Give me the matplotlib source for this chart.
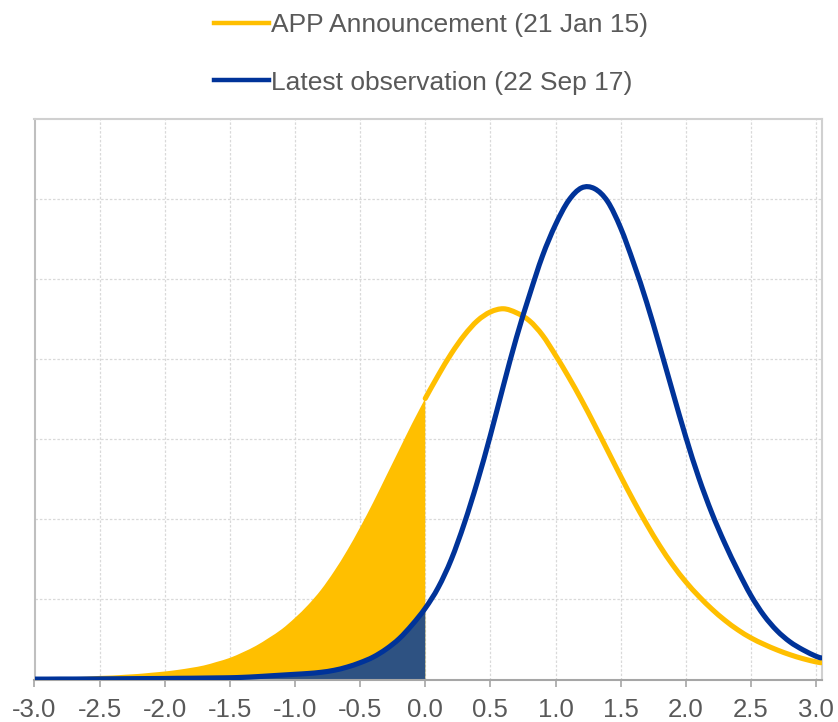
import matplotlib
matplotlib.use("Agg")
import matplotlib.pyplot as plt
from matplotlib.path import Path
from matplotlib.patches import PathPatch
from matplotlib.lines import Line2D
import numpy as np

# ---- data ----
x_vals = [-3.0, -2.9, -2.8, -2.7, -2.6, -2.5, -2.4, -2.3, -2.2, -2.1,
          -2.0, -1.9, -1.8, -1.7, -1.6, -1.5, -1.4, -1.3, -1.2, -1.1,
          -1.0, -0.9, -0.8, -0.7, -0.6, -0.5, -0.4, -0.3, -0.2, -0.1,
          0.0, 0.1, 0.2, 0.3, 0.4, 0.5, 0.6, 0.7, 0.8, 0.9,
          1.0, 1.1, 1.2, 1.3, 1.4, 1.5, 1.6, 1.7, 1.8, 1.9,
          2.0, 2.1, 2.2, 2.3, 2.4, 2.5, 2.6, 2.7, 2.8, 2.9,
          3.0, 3.04]

app_announcement = [0.020, 0.022, 0.025, 0.030, 0.035, 0.045, 0.050, 0.060, 0.070, 0.085,
                    0.100, 0.120, 0.145, 0.175, 0.220, 0.270, 0.340, 0.420, 0.520, 0.630,
                    0.770, 0.930, 1.120, 1.350, 1.610, 1.900, 2.210, 2.540, 2.870, 3.200,
                    3.510, 3.800, 4.070, 4.300, 4.480, 4.590, 4.630, 4.580, 4.480, 4.300,
                    4.050, 3.780, 3.490, 3.180, 2.860, 2.540, 2.230, 1.940, 1.670, 1.430,
                    1.220, 1.040, 0.880, 0.740, 0.620, 0.520, 0.440, 0.370, 0.310, 0.260,
                    0.220, 0.210]

latest_obs = [0.005, 0.005, 0.006, 0.006, 0.007, 0.008, 0.009, 0.010, 0.011, 0.012,
              0.013, 0.015, 0.016, 0.018, 0.020, 0.022, 0.027, 0.035, 0.045, 0.055,
              0.065, 0.075, 0.090, 0.115, 0.155, 0.210, 0.280, 0.380, 0.510, 0.685,
              0.890, 1.150, 1.500, 1.950, 2.470, 3.050, 3.670, 4.270, 4.800, 5.290,
              5.680, 5.980, 6.140, 6.130, 5.970, 5.640, 5.200, 4.710, 4.160, 3.590,
              3.030, 2.520, 2.080, 1.700, 1.360, 1.050, 0.800, 0.610, 0.470, 0.370,
              0.290, 0.270]

x_ticks = [-3.0, -2.5, -2.0, -1.5, -1.0, -0.5, 0.0, 0.5, 1.0, 1.5, 2.0, 2.5, 3.0]
x_tick_labels = ["-3.0", "-2.5", "-2.0", "-1.5", "-1.0", "-0.5", "0.0",
                 "0.5", "1.0", "1.5", "2.0", "2.5", "3.0"]
y_grid = [1, 2, 3, 4, 5, 6]

label_app = "APP Announcement (21 Jan 15)"
label_latest = "Latest observation (22 Sep 17)"

YELLOW = "#FFBF00"
BLUE = "#003399"
BLUE_FILL = "#2E5282"
TEXT = "#595959"

plt.rcParams['font.family'] = ['Liberation Sans', 'DejaVu Sans']


def smooth_path_parts(px, py):
    """Vertices/codes of a smoothed (Catmull-Rom as cubic Bezier) line
    through the given points, like a spreadsheet 'smoothed line'."""
    pts = np.column_stack([px, py])
    n = len(pts)
    verts = [pts[0]]
    codes = [Path.MOVETO]
    for i in range(n - 1):
        p0 = pts[i - 1] if i > 0 else pts[i]
        p1 = pts[i]
        p2 = pts[i + 1]
        p3 = pts[i + 2] if i + 2 < n else pts[i + 1]
        c1 = p1 + (p2 - p0) / 6.0
        c2 = p2 - (p3 - p1) / 6.0
        verts += [c1, c2, p2]
        codes += [Path.CURVE4] * 3
    return verts, codes


def smooth_line(ax, px, py, **kw):
    verts, codes = smooth_path_parts(px, py)
    ax.add_patch(PathPatch(Path(verts, codes), fill=False, **kw))


def smooth_fill(ax, px, py, **kw):
    verts, codes = smooth_path_parts(px, py)
    verts = verts + [(px[-1], 0.0), (px[0], 0.0), (px[0], py[0])]
    codes = codes + [Path.LINETO, Path.LINETO, Path.CLOSEPOLY]
    ax.add_patch(PathPatch(Path(verts, codes), lw=0, **kw))


x = np.array(x_vals)
ya = np.array(app_announcement)
yb = np.array(latest_obs)

fig = plt.figure(figsize=(8.38, 7.22), dpi=100)
ax = fig.add_axes([34.5 / 838, 1 - 679.5 / 722, (822 - 34.5) / 838, (679.5 - 119) / 722])

ax.set_xlim(-3.0, 3.046)
ax.set_ylim(0, 7)

# grid
for gx in x_ticks[1:]:
    ax.axvline(gx, color="#D9D9D9", lw=0.9, ls=(0, (2, 1.5)), zorder=0)
for gy in y_grid:
    ax.axhline(gy, color="#D9D9D9", lw=0.9, ls=(0, (2, 1.5)), zorder=0)

neg = x <= 0
smooth_fill(ax, x[neg], ya[neg], facecolor=YELLOW, zorder=1)
smooth_fill(ax, x[neg], yb[neg], facecolor=BLUE_FILL, zorder=2)

pos = x >= 0
smooth_line(ax, x[pos], ya[pos], edgecolor=YELLOW, lw=3.7, capstyle="round",
            joinstyle="round", zorder=3)
smooth_line(ax, x, yb, edgecolor=BLUE, lw=3.7, capstyle="round",
            joinstyle="round", zorder=4)

# legend
handles = [Line2D([], [], color=YELLOW, lw=3.2),
           Line2D([], [], color=BLUE, lw=3.2)]
leg = fig.legend(handles, [label_app, label_latest], loc="upper center",
                 bbox_to_anchor=(431 / 838, 1.0), frameon=False, fontsize=19,
                 handlelength=2.1, handletextpad=0.08, labelspacing=1.27,
                 borderpad=0.0)
for t in leg.get_texts():
    t.set_color(TEXT)

ax.set_xticks(x_ticks)
ax.set_xticklabels(x_tick_labels)
ax.set_yticks([])
ax.tick_params(axis="x", colors="#A6A6A6", length=5, width=1.2, labelsize=18.5,
               labelcolor=TEXT, pad=8)

ax.spines["left"].set_color("#BFBFBF")
ax.spines["left"].set_linewidth(1.5)
ax.spines["bottom"].set_color("#A6A6A6")
ax.spines["bottom"].set_linewidth(1.5)
ax.spines["top"].set_color("#D0D0D0")
ax.spines["top"].set_linewidth(1.5)
ax.spines["right"].set_color("#D0D0D0")
ax.spines["right"].set_linewidth(1.5)

fig.savefig("out.png", dpi=100)
